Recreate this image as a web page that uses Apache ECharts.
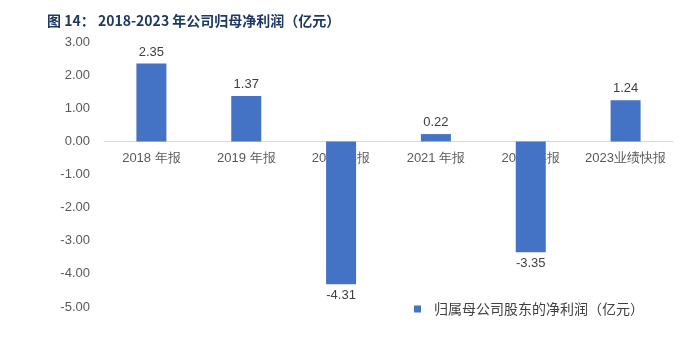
<!DOCTYPE html>
<html><head><meta charset="utf-8">
<script src="https://cdn.jsdelivr.net/npm/echarts@6/dist/echarts.min.js"></script>
<style>html,body{margin:0;padding:0;background:#fff}#c{width:699px;height:340px}</style>
</head><body><div id="c"></div>
<script>
var categories = ['2018 年报','2019 年报','2020 年报','2021 年报','2022 年报','2023业绩快报'];
var values = [2.35, 1.37, -4.31, 0.22, -3.35, 1.24];
var seriesName = '归属母公司股东的净利润（亿元）';
var titleText = '图 14： 2018-2023 年公司归母净利润（亿元）';
var yMin = -5, yMax = 3;

var chart = echarts.init(document.getElementById('c'));
var gridTop = 42, gridBottom = 33, H = 340;
var plotH = H - gridTop - gridBottom;
var zeroY = gridTop + plotH * (yMax - 0) / (yMax - yMin);
chart.setOption({
  animation: false,
  title: {text: titleText, left: 42, top: 9, textStyle: {fontSize: 14, fontWeight: 'bold', color: '#1f3864', fontFamily: 'Noto Sans CJK SC'}},
  grid: [
    {left: 104, right: 26, top: gridTop, bottom: gridBottom},
    {left: 104, right: 26, top: gridTop, bottom: H - zeroY}
  ],
  legend: {left: 409, top: 297, itemWidth: 7, itemHeight: 7, icon: 'rect', data: [seriesName],
    textStyle: {fontSize: 14, color: '#404040', fontFamily: 'Noto Sans CJK SC', padding: [0, 0, 0, 8]}},
  xAxis: [
    {type: 'category', data: categories, gridIndex: 0,
      axisLine: {onZero: true, lineStyle: {color: '#d9d9d9'}}, axisTick: {show: false},
      axisLabel: {show: false}},
    {type: 'category', data: categories, gridIndex: 1,
      axisLine: {show: false}, axisTick: {show: false},
      axisLabel: {interval: 0, color: '#595959', fontSize: 13, margin: 11, fontFamily: 'Liberation Sans'}}
  ],
  yAxis: [
    {type: 'value', min: yMin, max: yMax, interval: 1, gridIndex: 0,
      axisLine: {show: false}, axisTick: {show: false}, splitLine: {show: false},
      axisLabel: {color: '#595959', fontSize: 13, margin: 14, fontFamily: 'Liberation Sans', formatter: function(v){return v.toFixed(2);}}},
    {type: 'value', gridIndex: 1, min: 0, max: 1, show: false}
  ],
  series: [{name: seriesName, type: 'bar', xAxisIndex: 0, yAxisIndex: 0, barWidth: 30, z: 5,
    data: values.map(function(v){return {value: v, label: {position: v < 0 ? 'bottom' : 'top'}};}),
    itemStyle: {color: '#4472c4'},
    label: {show: true, color: '#404040', fontSize: 13, fontFamily: 'Liberation Sans',
      formatter: function(p){return p.value.toFixed(2);}}}]
});
</script></body></html>
